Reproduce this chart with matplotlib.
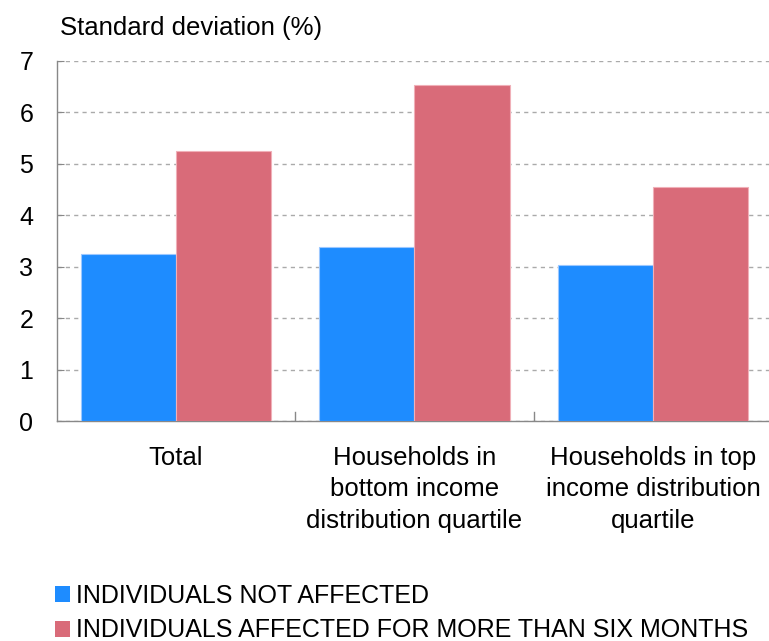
import numpy as np
import matplotlib.pyplot as plt
from matplotlib.patches import Patch

plt.rcParams['font.family'] = ['Liberation Sans', 'DejaVu Sans']

categories = ["Total",
              "Households in\nbottom income\ndistribution quartile",
              "Households in top\nincome distribution\nquartile"]
not_affected = [3.24, 3.38, 3.04]
affected_6m = [5.25, 6.53, 4.55]
series_names = ["INDIVIDUALS NOT AFFECTED",
                "INDIVIDUALS AFFECTED FOR MORE THAN SIX MONTHS"]
colors = ["#1E8CFF", "#D96B79"]

fig = plt.figure(figsize=(7.69, 6.41), dpi=100)
ax = fig.add_axes([0.074, 0.343, 0.93, 0.562])

x = np.arange(len(categories))
w = 0.4
ax.bar(x - w / 2, not_affected, w, color=colors[0], edgecolor="#9CC8FF", linewidth=0.8, zorder=3)
ax.bar(x + w / 2, affected_6m, w, color=colors[1], edgecolor="#F0B0B8", linewidth=0.8, zorder=3)

ax.set_xlim(-0.5, len(categories) - 0.5)
ax.set_ylim(0, 7)
ax.set_yticks(range(8))
ax.tick_params(axis="y", labelsize=18, length=5, direction="in", color="#888888", pad=17)
ax.yaxis.grid(True, linestyle=(0, (3, 3)), color="#AAAAAA", linewidth=1, zorder=0)

# category labels under each group, separators between groups
ax.set_xticks(x)
ax.set_xticklabels(categories, fontsize=18.5, linespacing=1.38)
ax.tick_params(axis="x", length=0, pad=18)
for b in x[1:] - 0.5:
    ax.plot([b, b], [0, 0.18], color="#888888", linewidth=1, zorder=4)

for s in ["top", "right"]:
    ax.spines[s].set_visible(False)
for s in ["left", "bottom"]:
    ax.spines[s].set_color("#888888")
    ax.spines[s].set_linewidth(1)

fig.text(0.078, 0.957, "Standard deviation (%)", fontsize=18.5, va="center", ha="left")

handles = [Patch(facecolor=c, edgecolor="none") for c in colors]
fig.legend(handles, series_names, loc="upper left", bbox_to_anchor=(0.071, 0.089),
           frameon=False, fontsize=18, handlelength=0.62, handleheight=0.62,
           handletextpad=0.25, labelspacing=0.42, borderpad=0, borderaxespad=0)

fig.savefig("out.png", dpi=100)
